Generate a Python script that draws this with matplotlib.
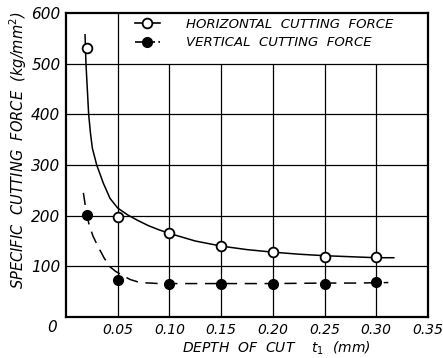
import numpy as np
import matplotlib
matplotlib.use('Agg')
import matplotlib.pyplot as plt

# measured points
depth = [0.02, 0.05, 0.10, 0.15, 0.20, 0.25, 0.30]
horizontal = [531, 197, 165, 140, 129, 118, 119]
vertical = [201, 73, 66, 66, 66, 66, 70]

# hand drawn curves
h_curve_x = [0.0184, 0.0193, 0.0219, 0.0237, 0.0255, 0.0297, 0.0361, 0.0426, 0.05, 0.06, 0.07, 0.08, 0.09, 0.10, 0.125, 0.15, 0.175, 0.20, 0.225, 0.25, 0.275, 0.30, 0.317]
h_curve_y = [557, 500, 400, 362, 333, 300, 264, 234, 215, 201, 190, 180, 172, 165, 150, 140, 133, 128, 124, 121, 119, 117, 117]
v_curve_x = [0.0168, 0.019, 0.022, 0.026, 0.031, 0.037, 0.0426, 0.048, 0.054, 0.062, 0.0716, 0.09, 0.12, 0.16, 0.20, 0.25, 0.28, 0.3117]
v_curve_y = [245, 215, 185, 160, 139, 116, 99, 90, 83, 74, 68, 66, 66, 66, 66, 67, 67, 68]

xticks = [0.05, 0.10, 0.15, 0.20, 0.25, 0.30, 0.35]
yticks = [100, 200, 300, 400, 500, 600]

plt.rcParams['font.family'] = ['DejaVu Sans']
fig = plt.figure(figsize=(4.43, 3.58), dpi=100)
ax = fig.add_axes([0.149, 0.1145, 0.817, 0.8492])
ax.set_xlim(0, 0.35)
ax.set_ylim(0, 600)

# grid (verticals stop under the legend area)
for x in xticks[:-1]:
    top = 600 if x == 0.05 else 500
    ax.vlines(x, 0, top, color='black', lw=0.9, zorder=1)
for y in yticks[:-1]:
    ax.hlines(y, 0, 0.35, color='black', lw=0.9, zorder=1)

ax.plot(h_curve_x, h_curve_y, color='black', lw=1.1, zorder=2)
ax.plot(v_curve_x, v_curve_y, color='black', lw=1.1, dashes=(8, 5), zorder=2)
ax.plot(depth, horizontal, 'o', ms=7, mfc='white', mec='black', mew=1.3, zorder=3)
ax.plot(depth, vertical, 'o', ms=7, mfc='black', mec='black', zorder=3)

h1, = ax.plot([], [], color='black', lw=1.2, marker='o', ms=7, mfc='white', mec='black', mew=1.3)
h2, = ax.plot([], [], color='black', lw=1.2, dashes=(5, 2), marker='o', ms=7, mfc='black', mec='black')
ax.legend([h1, h2], ['HORIZONTAL  CUTTING  FORCE', 'VERTICAL  CUTTING  FORCE'],
          loc='upper left', bbox_to_anchor=(0.19, 0.985), frameon=False,
          prop={'style': 'italic', 'size': 9.5}, handlelength=1.9, handletextpad=2.0,
          borderpad=0, borderaxespad=0, labelspacing=0.45)

for s in ax.spines.values():
    s.set_linewidth(1.6)

ax.set_xticks(xticks)
ax.set_xticklabels(['%.2f' % v for v in xticks], style='italic', fontsize=10)
ax.set_yticks(yticks)
ax.set_yticklabels([str(v) for v in yticks], style='italic', fontsize=11)
ax.tick_params(length=0, pad=4)
fig.text(52 / 443, 1 - 328 / 358, '0', style='italic', fontsize=11, ha='center', va='center')

fig.text(276 / 443, 1 - 348 / 358, 'DEPTH  OF  CUT    $t_1$  (mm)', style='italic', fontsize=10,
         ha='center', va='center')
fig.text(18 / 443, 1 - 150 / 358, 'SPECIFIC  CUTTING  FORCE  (kg/mm$^2$)', style='italic',
         fontsize=10.5, rotation=90, ha='center', va='center')

fig.savefig('out.png', dpi=100)
